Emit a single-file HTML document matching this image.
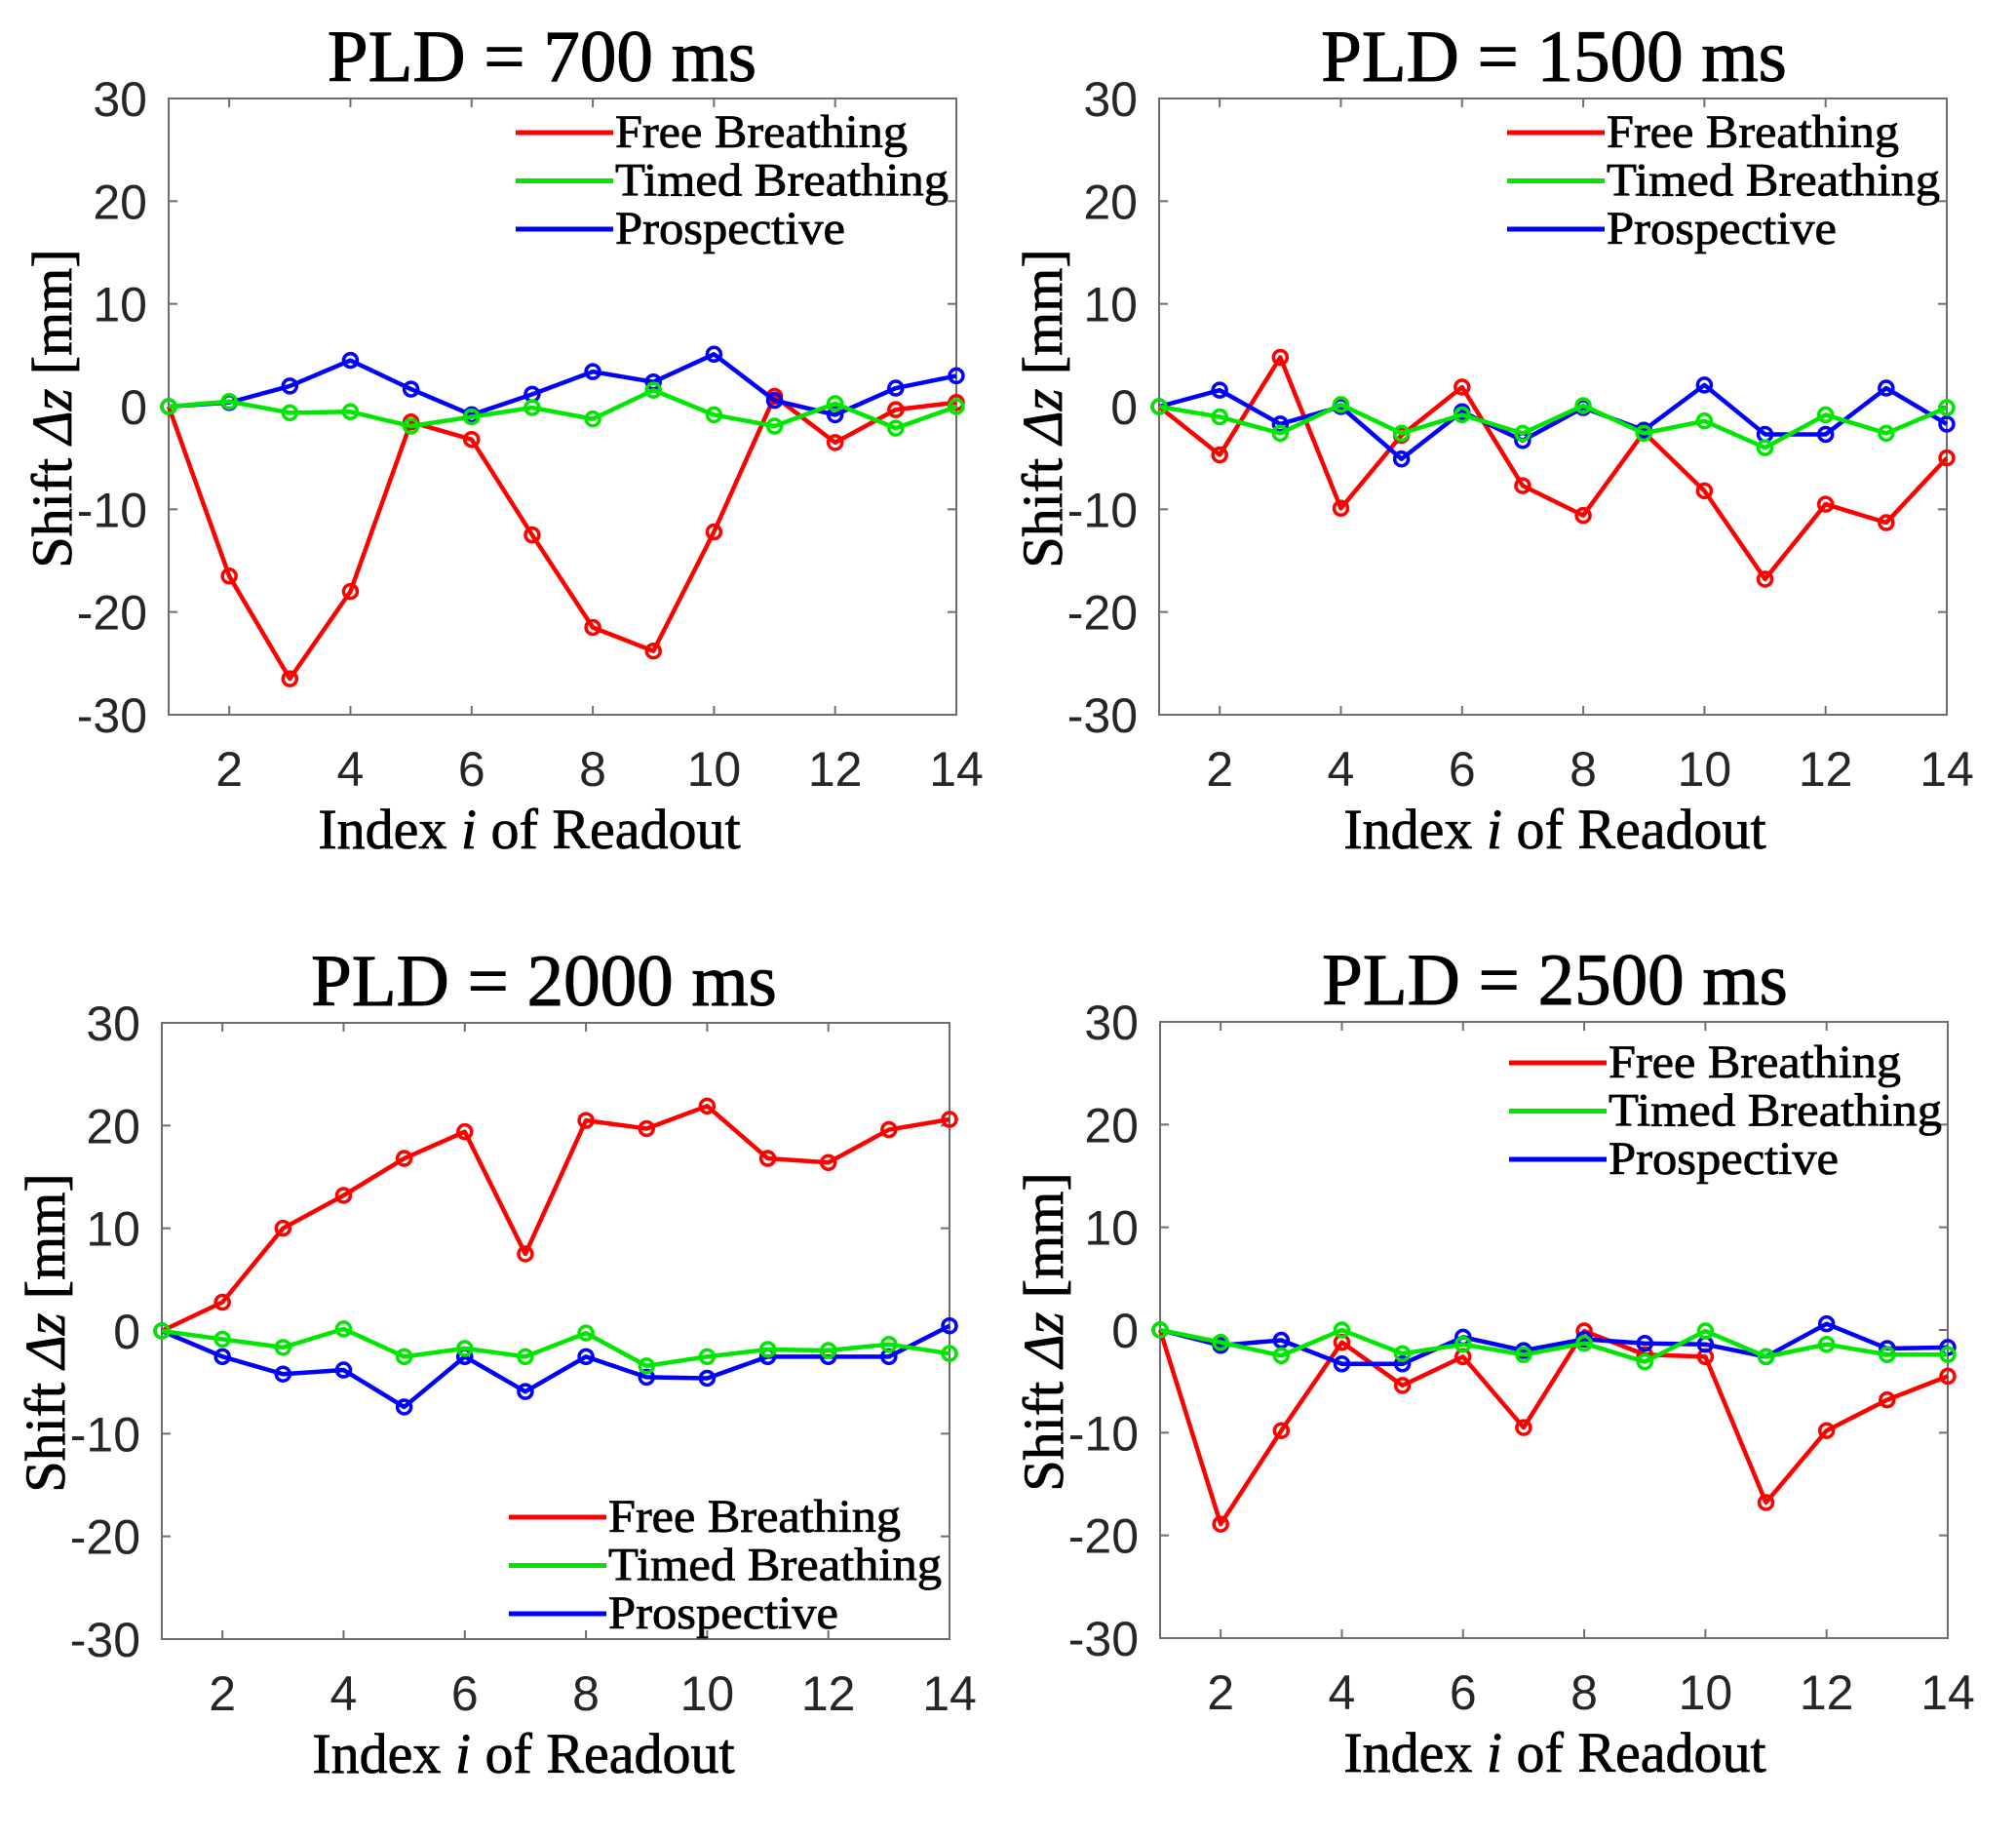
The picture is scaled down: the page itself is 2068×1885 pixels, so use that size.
<!DOCTYPE html>
<html><head><meta charset="utf-8"><style>
html,body{margin:0;padding:0;background:#fff;}
svg{display:block;}
</style></head><body>
<svg id="fig" width="2068" height="1885" viewBox="0 0 2068 1885" xmlns="http://www.w3.org/2000/svg"></svg>
<script>
const xCats = [1,2,3,4,5,6,7,8,9,10,11,12,13,14];
const xTicks = [2,4,6,8,10,12,14];
const yTicks = [-30,-20,-10,0,10,20,30];
const seriesNames = ["Free Breathing","Timed Breathing","Prospective"];
const titles = ["PLD = 700 ms","PLD = 1500 ms","PLD = 2000 ms","PLD = 2500 ms"];
const p1Red = [0,-16.5,-26.5,-18,-1.5,-3.2,-12.5,-21.5,-23.8,-12.2,1,-3.5,-0.3,0.4];
const p1Green = [0,0.5,-0.6,-0.5,-1.9,-1.0,-0.1,-1.2,1.6,-0.8,-1.9,0.3,-2.1,0.0];
const p1Blue = [0,0.4,2.0,4.5,1.7,-0.8,1.2,3.4,2.4,5.1,0.6,-0.8,1.8,3.0];
const p2Red = [0,-4.7,4.8,-9.9,-2.8,1.9,-7.7,-10.6,-2.5,-8.2,-16.8,-9.5,-11.3,-5.0];
const p2Green = [0,-1.0,-2.6,0.2,-2.6,-0.8,-2.6,0.1,-2.6,-1.4,-4.0,-0.8,-2.6,-0.1];
const p2Blue = [0,1.6,-1.7,0.0,-5.1,-0.5,-3.3,-0.1,-2.3,2.1,-2.7,-2.7,1.8,-1.7];
const p3Red = [0,2.8,10,13.2,16.8,19.4,7.5,20.5,19.7,21.9,16.8,16.4,19.6,20.6];
const p3Green = [0,-0.8,-1.6,0.2,-2.5,-1.7,-2.5,-0.2,-3.4,-2.5,-1.8,-1.9,-1.3,-2.2];
const p3Blue = [0,-2.5,-4.2,-3.8,-7.4,-2.5,-5.9,-2.5,-4.5,-4.6,-2.5,-2.5,-2.5,0.5];
const p4Red = [0,-18.9,-9.8,-1.2,-5.4,-2.6,-9.5,-0.1,-2.4,-2.6,-16.8,-9.8,-6.8,-4.5];
const p4Green = [0,-1.2,-2.5,0,-2.3,-1.4,-2.4,-1.3,-3.1,-0.1,-2.6,-1.4,-2.4,-2.4];
const p4Blue = [0,-1.5,-1.0,-3.3,-3.3,-0.7,-2.0,-0.9,-1.3,-1.4,-2.6,0.6,-1.8,-1.7];

const NS="http://www.w3.org/2000/svg";
const svg=document.getElementById('fig');
function mk(tag,attrs,parent){const e=document.createElementNS(NS,tag);for(const k in attrs)e.setAttribute(k,attrs[k]);(parent||svg).appendChild(e);return e;}

const panels=[
 {l:173,t:101,data:[p1Red,p1Green,p1Blue],leg:{x:356,y:35},tdx:-21,xdx:-34},
 {l:1189,t:101,data:[p2Red,p2Green,p2Blue],leg:{x:357,y:35},tdx:1,xdx:2},
 {l:166,t:1049,data:[p3Red,p3Green,p3Blue],leg:{x:356,y:507},tdx:-12,xdx:-33},
 {l:1190,t:1048,data:[p4Red,p4Green,p4Blue],leg:{x:358,y:42},tdx:1,xdx:1}
];
const W=808,H=632;
const colors=["#ff0000","#00e600","#0000ff"];
const drawOrder=[0,2,1];

panels.forEach((p,pi)=>{
  const g=mk('g',{});
  
  
  const xs=v=>p.l+(v-1)/13*W;
  const ys=v=>p.t+(30-v)/60*H;
  const tt=mk('text',{x:p.l+W/2+p.tdx,y:p.t-18,'font-family':'"Liberation Serif",serif','font-size':75,'text-anchor':'middle',fill:'#000',stroke:'#000','stroke-width':1},g);
  tt.textContent=titles[pi];
  
  
  const box=mk('rect',{x:p.l,y:p.t,width:W,height:H,fill:'none',stroke:'#6e6e6e','stroke-width':2},g);
  
  
  xTicks.forEach(v=>{
    const x=xs(v);
    mk('line',{x1:x,y1:p.t+H,x2:x,y2:p.t+H-9,stroke:'#6e6e6e','stroke-width':2},g);
    mk('line',{x1:x,y1:p.t,x2:x,y2:p.t+9,stroke:'#6e6e6e','stroke-width':2},g);
    const tl=mk('text',{x:x,y:p.t+H+73,'font-family':'"Liberation Sans",sans-serif','font-size':50,'text-anchor':'middle',fill:'#262626'},g);
    tl.textContent=v;
    
    
  });
  yTicks.forEach(v=>{
    const y=ys(v);
    mk('line',{x1:p.l,y1:y,x2:p.l+9,y2:y,stroke:'#6e6e6e','stroke-width':2},g);
    mk('line',{x1:p.l+W,y1:y,x2:p.l+W-9,y2:y,stroke:'#6e6e6e','stroke-width':2},g);
    const tl=mk('text',{x:p.l-22,y:y+18,'font-family':'"Liberation Sans",sans-serif','font-size':50,'text-anchor':'end',fill:'#262626'},g);
    tl.textContent=v;
    
    
  });
  const xl=mk('text',{x:p.l+W/2+p.xdx,y:p.t+H+137,'font-family':'"Liberation Serif",serif','font-size':58,'text-anchor':'middle',fill:'#000',stroke:'#000','stroke-width':0.8},g);
  xl.innerHTML='Index <tspan font-style="italic">i</tspan> of Readout';
  
  
  const cx=p.l-100,cy=p.t+H/2+2;
  const yl=mk('text',{x:cx,y:cy,'font-family':'"Liberation Serif",serif','font-size':58,'text-anchor':'middle',fill:'#000',stroke:'#000','stroke-width':0.8,transform:`rotate(-90 ${cx} ${cy})`},g);
  yl.innerHTML='Shift <tspan font-style="italic">Δz</tspan> [mm]';
  
  
  drawOrder.forEach(si=>{
    const vals=p.data[si];
    const pts=vals.map((v,i)=>xs(xCats[i])+','+ys(v)).join(' ');
    const pl=mk('polyline',{points:pts,fill:'none',stroke:colors[si],'stroke-width':4.5,'stroke-linejoin':'round'},g);
    
    
    vals.forEach((v,i)=>{
      const c=mk('circle',{cx:xs(xCats[i]),cy:ys(v),r:7,fill:'none',stroke:colors[si],'stroke-width':3.5},g);
      
      
    });
  });
  const lg=mk('g',{},g);
  
  
  seriesNames.forEach((n,si)=>{
    const y=p.t+p.leg.y+si*49.5;
    const lx=p.l+p.leg.x;
    mk('line',{x1:lx,y1:y,x2:lx+100,y2:y,stroke:colors[si],'stroke-width':5},lg);
    const t=mk('text',{x:lx+102,y:y+15,'font-family':'"Liberation Serif",serif','font-size':48,fill:'#000',stroke:'#000','stroke-width':0.8,textLength:(si==0?300:si==1?342:236),lengthAdjust:'spacingAndGlyphs'},lg);
    t.textContent=n;
    
    
  });
});
</script>
</body></html>
